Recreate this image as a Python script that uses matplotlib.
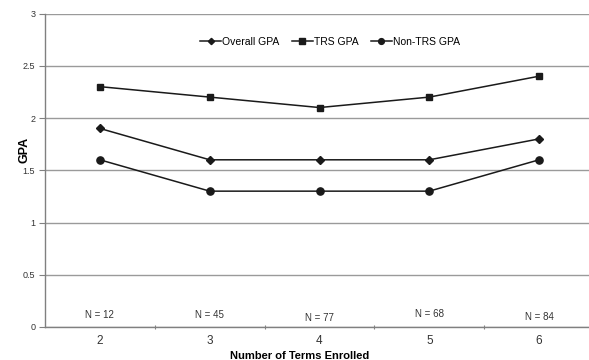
import numpy as np
import matplotlib.pyplot as plt

plt.rcParams['font.family'] = ['Liberation Sans', 'DejaVu Sans']

terms = ['2', '3', '4', '5', '6']
overall_gpa = [1.9, 1.6, 1.6, 1.6, 1.8]
trs_gpa = [2.3, 2.2, 2.1, 2.2, 2.4]
non_trs_gpa = [1.6, 1.3, 1.3, 1.3, 1.6]
n_counts = [12, 45, 77, 68, 84]
n_label_y = [0.115, 0.115, 0.085, 0.12, 0.095]  # label heights (as placed in the original)

fig = plt.figure(figsize=(5.89, 3.6), dpi=100)
ax = fig.add_axes([45 / 589, 33 / 360, 549 / 589, 313.5 / 360])

x = np.arange(len(terms))
line_kw = dict(color='#1a1a1a', lw=1.1, clip_on=False, zorder=3)
ax.plot(x, overall_gpa, marker='D', ms=4, label='Overall GPA', **line_kw)
ax.plot(x, trs_gpa, marker='s', ms=5, label='TRS GPA', **line_kw)
ax.plot(x, non_trs_gpa, marker='o', ms=5.2, label='Non-TRS GPA', **line_kw)

for xi, n, yy in zip(x, n_counts, n_label_y):
    ax.text(xi, yy, f'N = {n}', ha='center', va='center', fontsize=7, color='#333333')

ax.set_xlim(-0.5, len(terms) - 0.5)
ax.set_ylim(0, 3)
ax.set_yticks(np.arange(0, 3.01, 0.5))
ax.set_yticklabels(['0', '0.5', '1', '1.5', '2', '2.5', '3'])
ax.yaxis.grid(True, color='#9a9a9a', lw=1.0)
ax.set_axisbelow(True)

# category boundary ticks, labels centred on categories
ax.set_xticks(np.arange(0.5, len(terms) - 0.5, 1.0))
ax.set_xticklabels([])
ax.set_xticks(x, minor=True)
ax.set_xticklabels(terms, minor=True)
ax.tick_params(axis='x', which='major', length=3, direction='inout', color='#808080')
ax.tick_params(axis='x', which='minor', length=0, pad=6, labelsize=8.5, labelcolor='#333333')
ax.tick_params(axis='y', length=4, color='#808080', labelsize=6.5, labelcolor='#333333', pad=3)

for s in ['top', 'right']:
    ax.spines[s].set_visible(False)
for s in ['left', 'bottom']:
    ax.spines[s].set_color('#808080')
    ax.spines[s].set_linewidth(1.0)

ax.set_xlabel('Number of Terms Enrolled', fontsize=8, fontweight='bold')
ax.set_ylabel('GPA', fontsize=9, fontweight='bold')
ax.xaxis.set_label_coords(255 / 549, -24 / 313.5)
ax.yaxis.set_label_coords(-15 / 549, (327 - 150) / 313.5)

ax.legend(loc='center', bbox_to_anchor=(285 / 549, (327 - 42) / 313.5), ncol=3, frameon=False,
          fontsize=7.5, handlelength=2.0, handletextpad=0.1, columnspacing=1.2, borderpad=0,
          markerscale=0.8)

plt.savefig('out.png', dpi=100)
